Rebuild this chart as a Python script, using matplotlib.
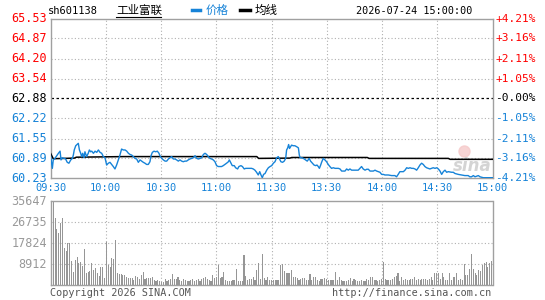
import numpy as np
import matplotlib.pyplot as plt
from matplotlib.lines import Line2D

# Datos (minutos desde 09:30, 0..240)
prev_close = 62.88
price_levels = [60.23, 60.89, 61.55, 62.22, 62.88, 63.54, 64.20, 64.87, 65.53]
pct_labels = ["-4.21%", "-3.16%", "-2.11%", "-1.05%", "-0.00%",
              "+1.05%", "+2.11%", "+3.16%", "+4.21%"]
time_ticks = [0, 30, 60, 90, 120, 150, 180, 210, 240]
time_labels = ["09:30", "10:00", "10:30", "11:00", "11:30",
               "13:30", "14:00", "14:30", "15:00"]
vol_ticks = [8912, 17824, 26735, 35647]

price_min = [0, 1.0, 1.5, 2.4, 3.4, 4.3, 5.2, 5.7, 6.4, 7.5, 8.2, 9.1, 10.0, 11.0, 11.9,
             12.4, 12.9, 13.7, 14.4, 15.1, 15.7, 16.4, 16.9, 17.5, 18.2, 18.7, 19.6, 20.5,
             21.1, 21.8, 22.4, 23.3, 24.2, 25.1, 26.0, 26.9, 27.8, 28.7, 29.6, 30.5, 31.4,
             32.3, 33.2, 34.1, 35.0, 35.9, 36.8, 37.7, 38.6, 39.5, 40.5, 41.4, 42.3, 43.2,
             44.1, 45.0, 45.9, 46.8, 47.7, 48.6, 49.5, 50.4, 51.3, 52.2, 53.1, 54.0, 54.6,
             55.3, 56.2, 57.1, 58.0, 58.9, 59.4, 60.4, 61.3, 62.2, 63.1, 64.0, 64.9, 65.8,
             66.7, 67.6, 68.5, 69.4, 70.3, 71.2, 72.1, 73.0, 73.9, 74.8, 75.7, 76.6, 77.5,
             78.5, 79.4, 80.3, 81.2, 82.1, 83.0, 83.9, 84.8, 85.7, 86.6, 87.5, 88.4, 89.3,
             90.2, 91.1, 92.0, 92.9, 93.8, 94.7, 95.6, 96.6, 97.1, 98.0, 98.7, 99.8, 100.5,
             101.6, 102.3, 103.4, 104.2, 105.2, 106.0, 107.0, 107.9, 109.2, 110.1, 111.0,
             111.9, 112.8, 113.6, 114.3, 115.0, 115.7, 116.5, 117.4, 118.3, 119.2, 120.1,
             121.0, 121.9, 122.8, 123.7, 124.2, 125.1, 126.0, 126.9, 127.7, 128.2, 128.8,
             129.3, 129.8, 130.4, 130.9, 131.8, 132.7, 133.6, 134.6, 135.1, 135.6, 136.7,
             137.8, 138.5, 139.4, 140.5, 141.2, 142.2, 143.1, 144.0, 144.7, 145.4, 146.0,
             146.7, 147.2, 148.1, 149.0, 149.9, 150.8, 151.7, 152.6, 153.6, 154.5, 156.3,
             157.2, 158.1, 159.9, 160.8, 161.7, 162.6, 163.5, 165.3, 167.1, 168.0, 168.9,
             169.8, 170.8, 171.7, 172.6, 173.5, 174.4, 175.3, 176.2, 177.1, 178.0, 178.9,
             179.8, 180.7, 181.6, 183.4, 185.2, 187.0, 187.9, 188.8, 189.7, 191.6, 192.5,
             193.4, 194.3, 195.2, 196.1, 197.0, 197.9, 198.8, 199.7, 200.6, 201.5, 202.4,
             203.3, 204.2, 205.1, 206.0, 206.9, 207.8, 208.8, 209.7, 210.6, 211.5, 212.4,
             213.3, 214.2, 215.1, 216.0, 217.8, 218.7, 219.6, 221.4, 223.2, 225.0, 226.8,
             227.7, 228.6, 229.6, 230.5, 232.3, 233.2, 235.0, 240.0]
price_val = [61.00, 60.56, 60.84, 60.89, 60.98, 61.06, 61.13, 60.84, 60.91, 60.89, 60.87,
             60.76, 60.73, 60.84, 60.89, 61.00, 61.17, 61.31, 61.35, 61.39, 61.17, 61.06,
             60.95, 61.06, 60.91, 61.11, 60.95, 61.06, 61.17, 61.11, 61.13, 61.06, 61.13,
             61.09, 61.17, 61.09, 61.06, 60.95, 60.91, 60.67, 60.73, 60.76, 60.69, 60.62,
             60.54, 60.67, 60.84, 61.00, 61.20, 61.17, 61.17, 61.13, 61.06, 61.02, 61.00,
             60.95, 60.89, 60.87, 60.76, 60.84, 60.80, 60.76, 60.73, 60.69, 60.69, 60.78,
             60.98, 61.09, 61.13, 61.11, 61.13, 61.06, 60.98, 60.89, 60.84, 60.80, 60.80,
             60.87, 60.91, 60.95, 60.87, 60.87, 60.84, 60.80, 60.84, 60.80, 60.78, 60.80,
             60.80, 60.84, 60.87, 60.89, 60.91, 60.98, 60.89, 60.87, 60.89, 60.91, 61.02,
             61.06, 61.02, 60.95, 60.89, 60.87, 60.84, 60.78, 60.65, 60.62, 60.62, 60.62,
             60.65, 60.69, 60.73, 60.78, 60.84, 60.73, 60.65, 60.65, 60.58, 60.54, 60.62,
             60.65, 60.62, 60.54, 60.56, 60.56, 60.56, 60.56, 60.54, 60.50, 60.43, 60.34,
             60.45, 60.34, 60.25, 60.36, 60.39, 60.50, 60.58, 60.62, 60.65, 60.73, 60.78,
             60.91, 60.95, 60.89, 60.78, 60.76, 60.80, 60.89, 61.17, 61.24, 61.35, 61.22,
             61.28, 61.33, 61.31, 61.31, 61.28, 61.24, 61.00, 60.91, 60.91, 60.87, 60.84,
             60.80, 60.89, 60.80, 60.73, 60.67, 60.65, 60.67, 60.62, 60.56, 60.67, 60.76,
             60.89, 60.84, 60.78, 60.69, 60.62, 60.56, 60.58, 60.56, 60.56, 60.54, 60.47,
             60.47, 60.54, 60.50, 60.54, 60.50, 60.50, 60.50, 60.56, 60.62, 60.54, 60.50,
             60.53, 60.53, 60.47, 60.47, 60.47, 60.50, 60.47, 60.45, 60.43, 60.36, 60.36,
             60.34, 60.34, 60.32, 60.32, 60.28, 60.36, 60.45, 60.45, 60.50, 60.58, 60.56,
             60.58, 60.56, 60.56, 60.54, 60.50, 60.58, 60.67, 60.73, 60.69, 60.62, 60.58,
             60.56, 60.54, 60.56, 60.58, 60.56, 60.58, 60.54, 60.47, 60.36, 60.45, 60.50,
             60.43, 60.45, 60.43, 60.43, 60.39, 60.36, 60.34, 60.32, 60.32, 60.28, 60.28,
             60.32, 60.28, 60.32, 60.28, 60.25, 60.25]

avg_min = [0, 1.5, 13.0, 14.0, 40.0, 112.0, 113.0, 130.0, 131.0, 172.0, 173.0, 216.0, 217.0, 240.0]
avg_val = [61.06, 60.88, 60.90, 60.93, 60.95, 60.95, 60.89, 60.90, 60.92, 60.92, 60.89,
           60.89, 60.86, 60.86]

vol_am = [12877, 35647, 28440, 23770, 22360, 26600, 28440, 15700, 14570, 17830,
          17830, 10330, 5800, 10750, 11890, 9620, 10050, 8210, 15280, 5380,
          5800, 6230, 9340, 6510, 7220, 5090, 3960, 7640, 7640, 2970,
          18540, 8630, 7640, 11460, 11180, 19240, 5090, 4670, 4670, 4390,
          4390, 3400, 3250, 2970, 2970, 2260, 3960, 3680, 2550, 4390,
          5520, 2830, 3110, 3110, 3110, 3540, 2260, 1840, 2260, 1840,
          1560, 1560, 2550, 1840, 2260, 2830, 4810, 2830, 2550, 3400,
          2260, 1980, 2550, 2260, 1980,
          1840, 2260, 2550, 1840, 2260, 2690, 1980, 2550, 2970, 3400,
          2690, 2260, 1840, 4390, 3250, 3680, 8630, 2970, 3400, 5660,
          2260, 1980, 1980, 1980, 2260, 2260, 6790, 1980, 1980, 1980,
          12880, 3820, 2260, 2550, 2550, 3680, 2260, 6510, 9620, 2550,
          13300, 2970, 2260, 3680, 2260, 2260]
vol_pm = [2260, 2260, 2260, 2260, 8630, 9060, 6230, 5380, 5090, 5380,
          6510, 3400, 3680, 2970, 2260, 2550, 3110, 3110, 2260, 2260,
          4810, 2260, 3400, 3680, 2260, 1980, 2550, 2550, 2970, 2690,
          2260, 2260, 2260, 2260, 5660, 2260, 3400, 2260, 1700, 1700,
          1980, 2260, 3110, 1980, 2830, 2260, 1980, 1980, 2260, 1980,
          1980, 2550, 2260, 3400, 3400, 2260, 2260, 1980, 2260, 2550,
          9910, 2550, 2260, 2260, 2260, 2550, 3400, 4100, 5090, 1980,
          3680, 2260, 2830, 2260, 2260, 2830, 2830, 3400, 2260, 2830,
          2260, 2550, 2830, 2550, 2260, 2550, 3400, 2260, 5090, 5380,
          5090, 2830, 5090, 3400, 2260, 2260, 5090, 2260, 3680, 3680,
          5090, 2260, 2830, 2260, 8910, 4390, 4390, 6790, 13300, 6790,
          5090, 4390, 6510, 6230, 8630, 9340, 10050, 7640, 9340, 10480]
volume = vol_am + vol_pm

# Colores
BLUE = "#1683d8"
RED = "#ff0000"
GRAY = "#999999"
FRAME = "#a0a0a0"
MONO = "DejaVu Sans Mono"
CJK = ["Noto Sans CJK SC", "DejaVu Sans"]

W, H = 545, 300
fig = plt.figure(figsize=(W / 100, H / 100), dpi=100)

def px(x, y):
    return x / W, 1 - y / H

# Panel de precio
ax = fig.add_axes([50.5 / W, 1 - 178.3 / H, 442 / W, 159.8 / H])
ax.set_xlim(0, 240)
ax.set_ylim(price_levels[0], price_levels[-1])
for lv in price_levels[1:-1]:
    if lv == prev_close:
        ax.axhline(lv, color="black", lw=0.9, ls=(0, (2, 2)), zorder=1)
    else:
        ax.axhline(lv, color="#b0b0b0", lw=0.8, ls=(0, (1, 2)), zorder=1)
for t in time_ticks[1:-1]:
    ax.axvline(t, color="#b0b0b0", lw=0.8, ls=(0, (1, 2)), zorder=1)

ax.plot(avg_min, avg_val, color="black", lw=1.1, zorder=3)
ax.plot(price_min, price_val, color=BLUE, lw=1.0, zorder=4)
ax.set_xticks([])
ax.set_yticks([])
for s in ax.spines.values():
    s.set_color(FRAME)
    s.set_linewidth(1.0)

# watermark sina
ax.plot([0.935], [0.17], "o", ms=8, color="#f6caca", alpha=0.8,
        transform=ax.transAxes, zorder=2)
ax.text(0.955, 0.08, "sina", transform=ax.transAxes, ha="center", va="center",
        fontsize=12, fontweight="bold", style="italic", color="#d4d4d4", zorder=2)

# etiquetas de precio y porcentaje
for i, lv in enumerate(price_levels):
    if lv > prev_close:
        c = RED
    elif lv < prev_close:
        c = BLUE
    else:
        c = "black"
    ax.text(-0.008, lv, f"{lv:.2f}", transform=ax.get_yaxis_transform(),
            ha="right", va="center", fontsize=8.5, family=MONO, color=c)
    ax.text(1.006, lv, pct_labels[i], transform=ax.get_yaxis_transform(),
            ha="left", va="center", fontsize=8, family=MONO, color=c)

for t, lab in zip(time_ticks, time_labels):
    ax.text(t, -0.062, lab, transform=ax.get_xaxis_transform(), ha="center",
            va="center", fontsize=7.5, family=MONO, color=BLUE)

# Panel de volumen
axv = fig.add_axes([50.5 / W, 1 - 285.3 / H, 442 / W, 84 / H])
axv.bar(np.arange(len(volume)), volume, width=0.6, color="#969696",
        antialiased=False, zorder=2)
axv.set_xlim(-0.5, 240.5)
axv.set_ylim(0, vol_ticks[-1])
for v in vol_ticks[:-1]:
    axv.axhline(v, color="#b0b0b0", lw=0.8, ls=(0, (1, 2)), zorder=1)
for t in time_ticks[1:-1]:
    axv.axvline(t, color="#b0b0b0", lw=0.8, ls=(0, (1, 2)), zorder=1)
axv.set_xticks([])
axv.set_yticks([])
for s in axv.spines.values():
    s.set_color(FRAME)
    s.set_linewidth(1.0)
for v in vol_ticks:
    axv.text(-0.008, v, str(v), transform=axv.get_yaxis_transform(), ha="right",
             va="center", fontsize=8.5, family=MONO, color=GRAY)

# Cabecera
fig.text(*px(48, 11), "sh601138", ha="left", va="center", fontsize=7.5,
         family=MONO, color="black")
fig.text(*px(116, 10), "工业富联", ha="left", va="center", fontsize=8.3,
         family=CJK, color="black")
fig.add_artist(Line2D([116 / W, 161 / W], [1 - 17 / H] * 2, color="black", lw=0.8))
fig.add_artist(Line2D([192 / W, 200 / W], [1 - 10 / H] * 2, color=BLUE, lw=2.5))
fig.text(*px(206, 10), "价格", ha="left", va="center", fontsize=8.3,
         family=CJK, color=BLUE)
fig.add_artist(Line2D([240 / W, 250 / W], [1 - 10 / H] * 2, color="black", lw=2.5))
fig.text(*px(255, 10), "均线", ha="left", va="center", fontsize=8.3,
         family=CJK, color="black")
fig.text(*px(472, 11), "2026-07-24 15:00:00", ha="right", va="center",
         fontsize=7.3, family=MONO, color="black")

# Pie
fig.text(*px(50, 293), "Copyright 2026 SINA.COM", ha="left", va="center",
         fontsize=7.3, family=MONO, color="#555555")
fig.text(*px(491, 293), "http://finance.sina.com.cn", ha="right", va="center",
         fontsize=7.3, family=MONO, color="#555555")

fig.savefig("out.png", dpi=100)
